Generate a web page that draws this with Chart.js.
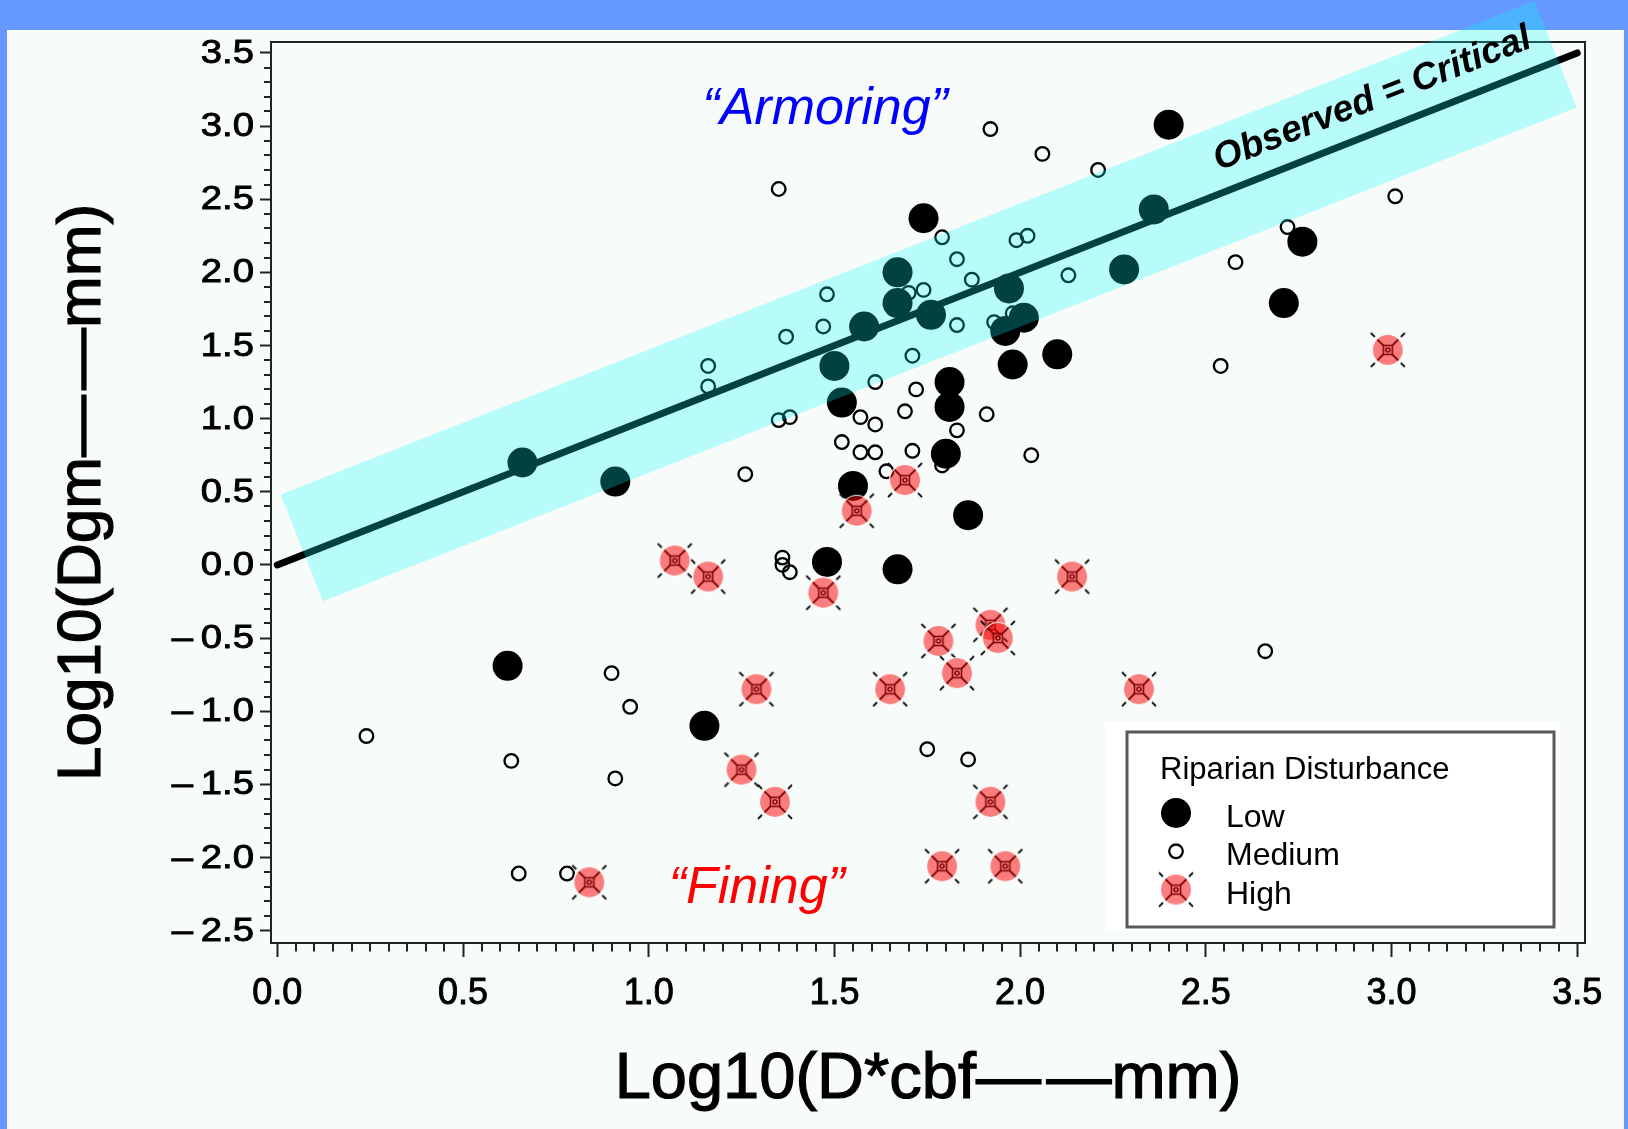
<!DOCTYPE html>
<html>
<head>
<meta charset="utf-8">
<title>Dgm vs D*cbf by riparian disturbance</title>
<script src="https://cdn.jsdelivr.net/npm/chart.js@4.4.1/dist/chart.umd.min.js"></script>
<style>
  html, body { margin: 0; padding: 0; background: #6699ff; }
  #plot { display: block; }
</style>
</head>
<body>
<canvas id="plot" width="1628" height="1129"></canvas>
<script>
// ---- data (all values are log10 of mm) ----
const X_TICKS = [0, 0.5, 1, 1.5, 2, 2.5, 3, 3.5];
const Y_TICKS = [-2.5, -2, -1.5, -1, -0.5, 0, 0.5, 1, 1.5, 2, 2.5, 3, 3.5];

const LOW_X = [0.66, 0.91, 0.62, 1.15, 1.48, 1.74, 1.67, 1.67, 1.58, 1.76, 1.97, 2.01, 1.96, 2.36,
               2.28, 1.50, 1.52, 2.10, 1.98, 1.81, 1.81, 1.80, 1.55, 1.86, 1.67, 2.40, 2.76, 2.71];
const LOW_Y = [0.70, 0.57, -0.69, -1.10, 0.02, 2.37, 2.00, 1.79, 1.63, 1.71, 1.89, 1.69, 1.60, 2.43,
               2.02, 1.36, 1.11, 1.44, 1.37, 1.25, 1.08, 0.76, 0.54, 0.34, -0.03, 3.01, 2.21, 1.79];

const MED_X = [1.35, 2.06, 2.21, 1.79, 1.99, 2.02, 1.83, 1.48, 1.87, 1.70, 1.74, 2.13, 2.58, 1.37,
               1.47, 1.83, 1.93, 1.98, 1.71, 2.54, 1.61, 1.72, 1.35, 1.38, 1.57, 1.61, 1.69, 1.91,
               1.83, 1.52, 1.57, 1.61, 1.71, 2.03, 1.64, 1.79, 1.26, 1.36, 1.36, 1.38, 0.90, 0.95,
               0.24, 0.63, 0.91, 0.65, 0.78, 1.75, 1.86, 2.66, 3.01, 2.72, 1.92, 1.16, 1.16];
const MED_Y = [2.57, 2.81, 2.70, 2.24, 2.22, 2.25, 2.09, 1.85, 1.95, 1.86, 1.88, 1.98, 2.07, 1.56,
               1.63, 1.64, 1.66, 1.72, 1.43, 1.36, 1.25, 1.20, 0.99, 1.01, 1.01, 0.96, 1.05, 1.03,
               0.92, 0.84, 0.77, 0.77, 0.78, 0.75, 0.64, 0.68, 0.62, 0.05, 0.00, -0.05, -0.74, -0.97,
               -1.17, -1.34, -1.46, -2.11, -2.11, -1.26, -1.33, -0.59, 2.52, 2.31, 2.98, 1.36, 1.22];

const HIGH_X = [1.07, 1.16, 1.47, 1.29, 1.25, 1.34, 0.84, 1.78, 1.92, 1.94,
                1.83, 1.65, 1.92, 1.79, 1.96, 1.69, 1.56, 2.14, 2.32, 2.99];
const HIGH_Y = [0.03, -0.08, -0.19, -0.85, -1.40, -1.62, -2.17, -0.52, -0.41, -0.50,
                -0.74, -0.85, -1.62, -2.06, -2.06, 0.58, 0.37, -0.08, -0.85, 1.47];

// 1:1 reference line
const LINE_X = [0, 3.5];
const LINE_Y = [0, 3.5];

const SERIES = ['Low', 'Medium', 'High'];
const LEGEND_TITLE = 'Riparian Disturbance';
const X_TITLE = 'Log10(D*cbf\u2014\u200A\u2014mm)';
const Y_TITLE = 'Log10(Dgm\u2014\u200A\u2014mm)';

// ---- look ----
const FONT = '"Liberation Sans", Arial, Helvetica, sans-serif';
const PAGE_BLUE = '#6699ff';
const PANEL = '#f7fbf9';
const INK = '#222';

// shaded band around the line, in data units
const BAND = { from: 0.066, to: 3.442, lift: 0.05, halfHeight: 0.422, color: 'rgba(0, 255, 255, 0.26)' };
const LINE_LABEL = { at: 2.98, lift: 32, text: 'Observed = Critical' };
const NOTES = [
  { text: '\u201CArmoring\u201D', x: 1.475, y: 3.012, color: '#0000ff' },
  { text: '\u201CFining\u201D',   x: 1.291, y: -2.314, color: '#ff0000' }
];
const LEGEND_BOX = { left: 1127, top: 732, width: 427, height: 195 };

const xy = (xs, ys) => xs.map((x, i) => ({ x, y: ys[i] }));
const fmt = v => (v < 0 ? '\u2013\u2009' : '') + Math.abs(v).toFixed(1);

// high-disturbance symbol: star marker under a translucent red disc
function makeHighSymbol() {
  const c = document.createElement('canvas');
  c.width = 48; c.height = 48;
  const g = c.getContext('2d');
  const m = 24;
  g.strokeStyle = '#111';
  g.lineWidth = 1.8;
  [[1, 1], [1, -1], [-1, 1], [-1, -1]].forEach(([dx, dy]) => {
    g.beginPath();
    g.moveTo(m + dx * 4.5, m + dy * 4.5);
    g.lineTo(m + dx * 11, m + dy * 11);
    g.moveTo(m + dx * 13, m + dy * 13);
    g.lineTo(m + dx * 17, m + dy * 17);
    g.stroke();
  });
  g.lineWidth = 1.6;
  g.strokeRect(m - 4.5, m - 4.5, 9, 9);
  g.beginPath();
  g.arc(m, m, 2, 0, Math.PI * 2);
  g.stroke();
  g.beginPath();
  g.arc(m, m, 15.5, 0, Math.PI * 2);
  g.fillStyle = 'rgba(250, 0, 0, 0.5)';
  g.fill();
  g.strokeStyle = 'rgba(255, 255, 255, 0.9)';
  g.lineWidth = 1.2;
  g.stroke();
  return c;
}
const highSymbol = makeHighSymbol();

const STYLE = {
  Low:    { radius: 15, fill: '#000', stroke: null, width: 0 },
  Medium: { radius: 6.8, fill: 'rgba(0,0,0,0)', stroke: '#000', width: 2.3 },
  High:   { image: highSymbol }
};

// heavier text: fill plus a thin outline of the same colour
function boldText(ctx, text, x, y, weight) {
  ctx.fillText(text, x, y);
  ctx.lineWidth = weight;
  ctx.strokeStyle = ctx.fillStyle;
  ctx.strokeText(text, x, y);
}

const pagePlugin = {
  id: 'page',
  beforeDraw(chart) {
    const { ctx, width, height } = chart;
    ctx.save();
    ctx.fillStyle = PAGE_BLUE;
    ctx.fillRect(0, 0, width, height);
    ctx.fillStyle = PANEL;
    ctx.fillRect(7, 30, width - 11, height - 30);
    ctx.restore();
  }
};

// frame, minor ticks, y labels and axis titles (the library draws the major tick marks)
const framePlugin = {
  id: 'frame',
  beforeDatasetsDraw(chart) {
    const { ctx, chartArea: a, scales: { x, y } } = chart;
    ctx.save();
    ctx.strokeStyle = INK;
    ctx.lineWidth = 2;
    ctx.beginPath();
    for (let i = 0; i < X_TICKS.length - 1; i++) {
      const step = (X_TICKS[i + 1] - X_TICKS[i]) / 10;
      for (let k = 1; k < 10; k++) {
        const px = Math.round(x.getPixelForValue(X_TICKS[i] + k * step));
        ctx.moveTo(px, a.bottom);
        ctx.lineTo(px, a.bottom + 8.5);
      }
    }
    for (let i = 0; i < Y_TICKS.length - 1; i++) {
      const step = (Y_TICKS[i + 1] - Y_TICKS[i]) / 5;
      for (let k = 1; k < 5; k++) {
        const py = Math.round(y.getPixelForValue(Y_TICKS[i] + k * step));
        ctx.moveTo(a.left, py);
        ctx.lineTo(a.left - 7, py);
      }
    }
    ctx.stroke();
    ctx.strokeRect(a.left, a.top, a.right - a.left, a.bottom - a.top);

    // y tick labels, drawn a little wide
    ctx.fillStyle = '#000';
    ctx.font = '33px ' + FONT;
    ctx.textAlign = 'right';
    ctx.textBaseline = 'middle';
    Y_TICKS.forEach(v => {
      ctx.save();
      ctx.translate(a.left - 17, y.getPixelForValue(v) + 1);
      ctx.scale(1.16, 1);
      boldText(ctx, fmt(v), 0, 0, 0.9);
      ctx.restore();
    });

    // axis titles
    ctx.textAlign = 'center';
    ctx.textBaseline = 'middle';
    ctx.font = '65px ' + FONT;
    boldText(ctx, X_TITLE, (a.left + a.right) / 2, 1080, 1.2);
    ctx.save();
    ctx.translate(83, (a.top + a.bottom) / 2);
    ctx.rotate(-Math.PI / 2);
    ctx.font = '62px ' + FONT;
    boldText(ctx, Y_TITLE, 0, 0, 1.2);
    ctx.restore();
    ctx.restore();
  }
};

const bandPlugin = {
  id: 'band',
  afterDatasetsDraw(chart) {
    const { ctx, scales: { x, y } } = chart;
    const p1 = { x: x.getPixelForValue(BAND.from), y: y.getPixelForValue(BAND.from + BAND.lift) };
    const p2 = { x: x.getPixelForValue(BAND.to), y: y.getPixelForValue(BAND.to + BAND.lift) };
    const len = Math.hypot(p2.x - p1.x, p2.y - p1.y);
    const ux = (p2.x - p1.x) / len, uy = (p2.y - p1.y) / len;
    const hw = Math.abs(y.getPixelForValue(0) - y.getPixelForValue(BAND.halfHeight)) * Math.abs(ux);
    const nx = -uy * hw, ny = ux * hw;
    ctx.save();
    ctx.fillStyle = BAND.color;
    ctx.beginPath();
    ctx.moveTo(p1.x - nx, p1.y - ny);
    ctx.lineTo(p2.x - nx, p2.y - ny);
    ctx.lineTo(p2.x + nx, p2.y + ny);
    ctx.lineTo(p1.x + nx, p1.y + ny);
    ctx.closePath();
    ctx.fill();
    ctx.restore();
  }
};

const notesPlugin = {
  id: 'notes',
  afterDatasetsDraw(chart) {
    const { ctx, scales: { x, y } } = chart;
    ctx.save();
    // label riding on the 1:1 line
    const t = (LINE_LABEL.at - LINE_X[0]) / (LINE_X[1] - LINE_X[0]);
    const lx = x.getPixelForValue(LINE_LABEL.at);
    const ly = y.getPixelForValue(LINE_Y[0] + t * (LINE_Y[1] - LINE_Y[0]));
    const ang = Math.atan2(y.getPixelForValue(LINE_Y[1]) - y.getPixelForValue(LINE_Y[0]),
                           x.getPixelForValue(LINE_X[1]) - x.getPixelForValue(LINE_X[0]));
    ctx.translate(lx, ly);
    ctx.rotate(ang);
    ctx.font = 'italic bold 37px ' + FONT;
    ctx.fillStyle = '#000';
    ctx.textAlign = 'center';
    ctx.textBaseline = 'middle';
    ctx.fillText(LINE_LABEL.text, 0, -LINE_LABEL.lift);
    ctx.restore();

    ctx.save();
    ctx.font = 'italic 52px ' + FONT;
    ctx.textAlign = 'center';
    ctx.textBaseline = 'alphabetic';
    NOTES.forEach(n => {
      ctx.fillStyle = n.color;
      ctx.fillText(n.text, x.getPixelForValue(n.x), y.getPixelForValue(n.y));
    });
    ctx.restore();
  }
};

const legendPlugin = {
  id: 'boxLegend',
  afterDraw(chart) {
    const { ctx } = chart;
    const b = LEGEND_BOX;
    ctx.save();
    ctx.fillStyle = '#fff';
    ctx.fillRect(b.left - 22, b.top - 10, b.width + 28, b.height + 14);
    ctx.strokeStyle = '#5a5a5a';
    ctx.lineWidth = 3;
    ctx.strokeRect(b.left, b.top, b.width, b.height);

    ctx.fillStyle = '#000';
    ctx.textAlign = 'left';
    ctx.textBaseline = 'alphabetic';
    ctx.font = '31px ' + FONT;
    ctx.fillText(LEGEND_TITLE, b.left + 33, b.top + 47);

    ctx.font = '32px ' + FONT;
    SERIES.forEach((name, i) => {
      const base = b.top + 95 + i * 38.3;
      const sx = b.left + 49, sy = base - 14;
      const s = STYLE[name];
      if (s.image) {
        ctx.drawImage(s.image, sx - s.image.width / 2, sy - s.image.height / 2);
      } else {
        ctx.beginPath();
        ctx.arc(sx, sy, s.radius, 0, Math.PI * 2);
        ctx.fillStyle = s.fill;
        ctx.fill();
        if (s.stroke) { ctx.strokeStyle = s.stroke; ctx.lineWidth = s.width; ctx.stroke(); }
      }
      ctx.fillStyle = '#000';
      ctx.fillText(name, b.left + 99, base);
    });
    ctx.restore();
  }
};

Chart.defaults.font.family = FONT;
Chart.defaults.color = '#000';

new Chart(document.getElementById('plot'), {
  type: 'scatter',
  data: {
    datasets: [
      { label: 'High', data: xy(HIGH_X, HIGH_Y), pointStyle: STYLE.High.image, pointRadius: 16, order: 0 },
      { label: 'Low', data: xy(LOW_X, LOW_Y), pointStyle: 'circle', pointRadius: STYLE.Low.radius,
        backgroundColor: STYLE.Low.fill, borderWidth: 0, order: 1 },
      { label: 'Medium', data: xy(MED_X, MED_Y), pointStyle: 'circle', pointRadius: STYLE.Medium.radius,
        backgroundColor: STYLE.Medium.fill, borderColor: STYLE.Medium.stroke, borderWidth: STYLE.Medium.width, order: 2 },
      { type: 'line', label: 'Observed = Critical', data: xy(LINE_X, LINE_Y), showLine: true, fill: false,
        borderColor: '#000', borderWidth: 7, borderCapStyle: 'round', pointRadius: 0, order: 3 }
    ]
  },
  options: {
    responsive: false,
    animation: false,
    devicePixelRatio: 1,
    events: [],
    layout: { padding: { left: 0, top: 42, right: 43, bottom: 0 } },
    plugins: { legend: { display: false }, tooltip: { enabled: false } },
    scales: {
      x: {
        type: 'linear',
        min: -0.017,
        max: 3.521,
        afterFit: s => { s.height = 186; },
        afterBuildTicks: s => { s.ticks = X_TICKS.map(v => ({ value: v })); },
        border: { display: false },
        grid: { drawOnChartArea: false, drawTicks: true, tickLength: 14, tickWidth: 2, tickColor: INK },
        ticks: { font: { size: 36 }, color: '#000', padding: 15, maxRotation: 0, autoSkip: false,
                 textStrokeColor: '#000', textStrokeWidth: 0.9, callback: fmt }
      },
      y: {
        type: 'linear',
        min: -2.585,
        max: 3.575,
        afterFit: s => { s.width = 271; },
        afterBuildTicks: s => { s.ticks = Y_TICKS.map(v => ({ value: v })); },
        border: { display: false },
        grid: { drawOnChartArea: false, drawTicks: true, tickLength: 11, tickWidth: 2, tickColor: INK },
        ticks: { display: false }
      }
    }
  },
  plugins: [pagePlugin, framePlugin, bandPlugin, notesPlugin, legendPlugin]
});
</script>
</body>
</html>
